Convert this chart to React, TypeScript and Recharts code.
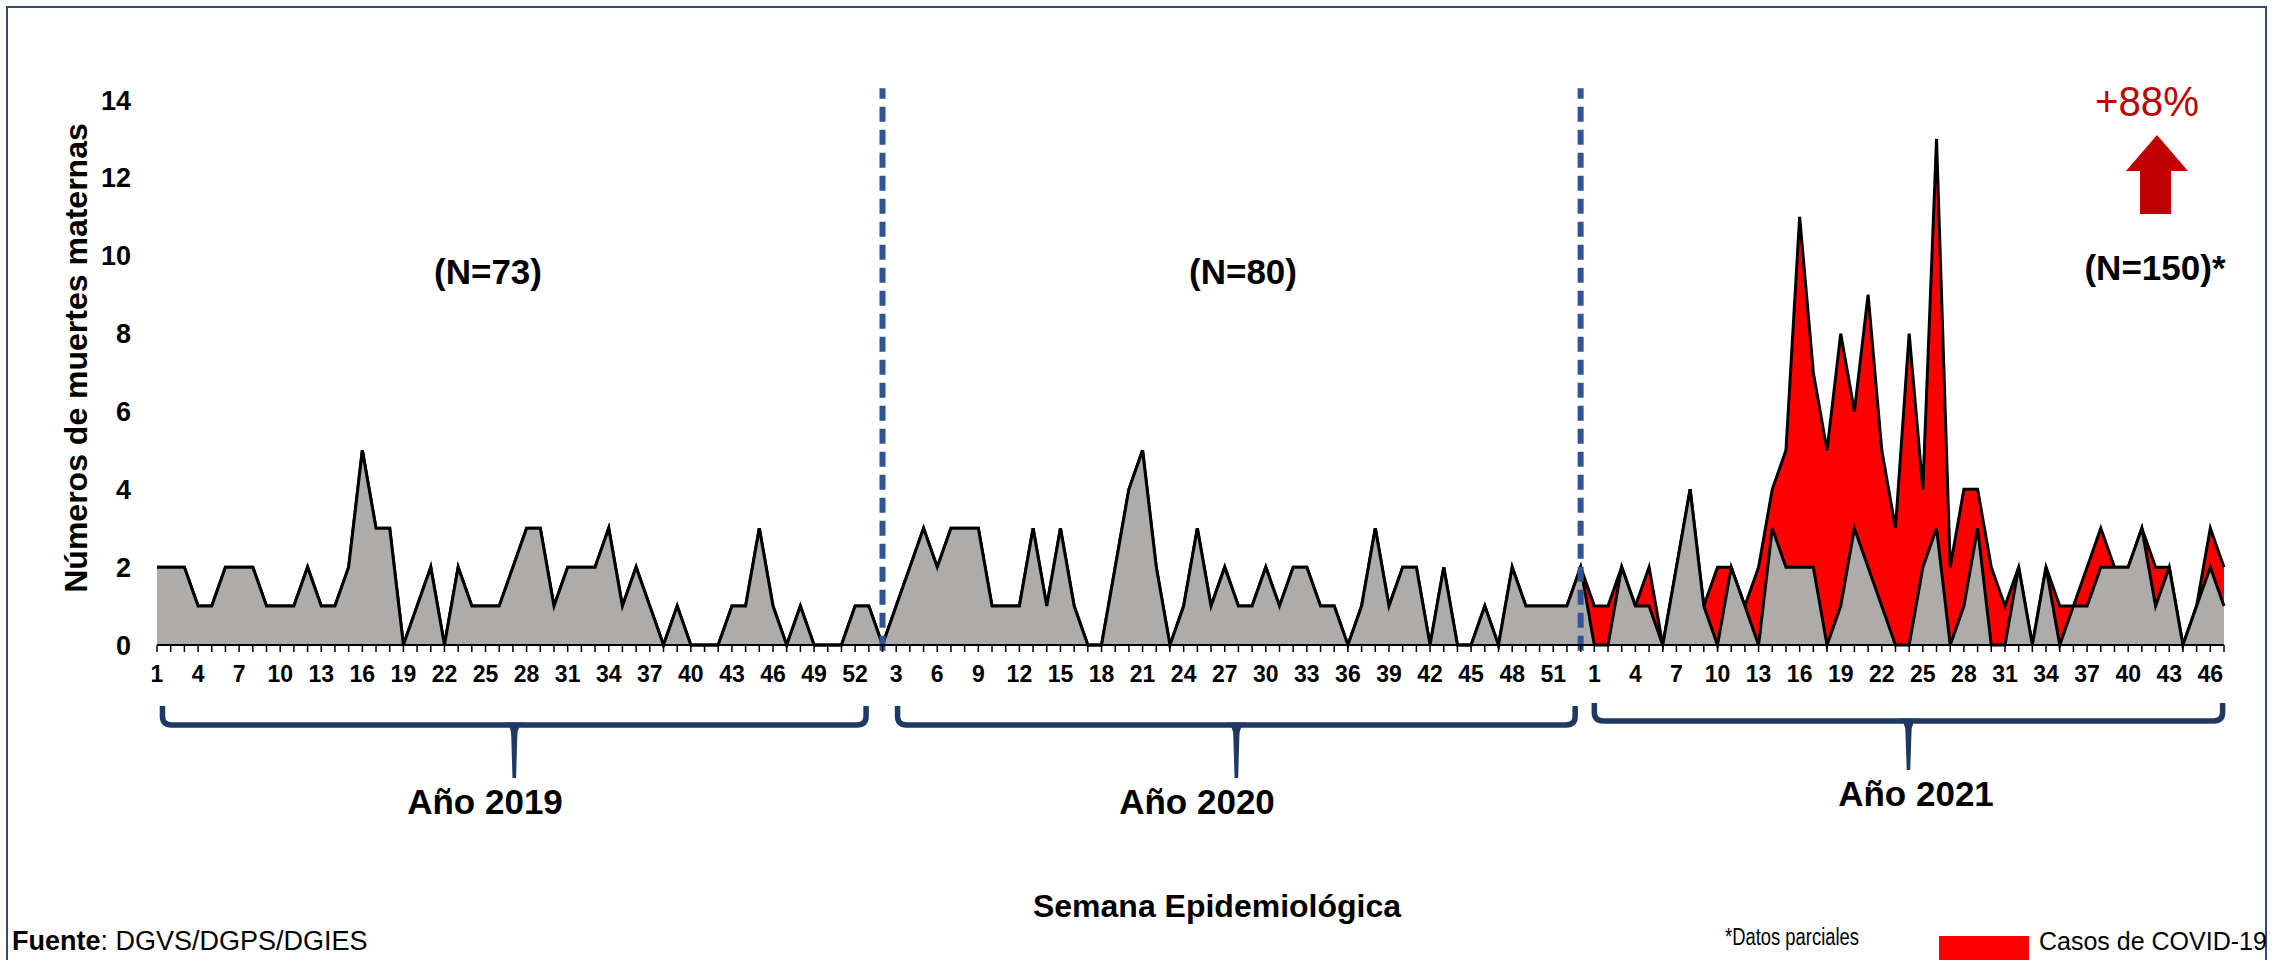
import React from 'react';
import { AreaChart, Area, XAxis, YAxis, ReferenceLine } from 'recharts';

// ---- Data (weekly maternal deaths) ----
const weeks2019 = Array.from({ length: 52 }, (_, i) => i + 1);
const weeks2020 = Array.from({ length: 53 }, (_, i) => i + 1);
const weeks2021 = Array.from({ length: 47 }, (_, i) => i + 1);

const nonCovid2019 = [2, 2, 2, 1, 1, 2, 2, 2, 1, 1, 1, 2, 1, 1, 2, 5, 3, 3, 0, 1, 2, 0, 2, 1, 1, 1, 2, 3, 3, 1, 2, 2, 2, 3, 1, 2, 1, 0, 1, 0, 0, 0, 1, 1, 3, 1, 0, 1, 0, 0, 0, 1];
const nonCovid2020 = [1, 0, 1, 2, 3, 2, 3, 3, 3, 1, 1, 1, 3, 1, 3, 1, 0, 0, 2, 4, 5, 2, 0, 1, 3, 1, 2, 1, 1, 2, 1, 2, 2, 1, 1, 0, 1, 3, 1, 2, 2, 0, 2, 0, 0, 1, 0, 2, 1, 1, 1, 1, 2];
const nonCovid2021 = [0, 0, 2, 1, 1, 0, 2, 4, 1, 0, 2, 1, 0, 3, 2, 2, 2, 0, 1, 3, 2, 1, 0, 0, 2, 3, 0, 1, 3, 0, 0, 2, 0, 2, 0, 1, 1, 2, 2, 2, 3, 1, 2, 0, 1, 2, 1];
const covid2021 = [1, 1, 0, 0, 1, 0, 0, 0, 0, 2, 0, 0, 2, 1, 3, 9, 5, 5, 7, 3, 7, 4, 3, 8, 2, 10, 2, 3, 1, 2, 1, 0, 0, 0, 1, 0, 1, 1, 0, 0, 0, 1, 0, 0, 0, 1, 1];

const yTicks = [0, 2, 4, 6, 8, 10, 12, 14];
const yearLabels = ['Año 2019', 'Año 2020', 'Año 2021'];
const nLabels = ['(N=73)', '(N=80)', '(N=150)*'];
const yearBoundaries = ['2020-2', '2020-53'];

type Row = { key: string; week: number; noCovid: number; total: number };
const data: Row[] = [
  ...weeks2019.map((w, i) => ({ key: `2019-${w}`, week: w, noCovid: nonCovid2019[i], total: nonCovid2019[i] })),
  ...weeks2020.map((w, i) => ({ key: `2020-${w}`, week: w, noCovid: nonCovid2020[i], total: nonCovid2020[i] })),
  ...weeks2021.map((w, i) => ({ key: `2021-${w}`, week: w, noCovid: nonCovid2021[i], total: nonCovid2021[i] + covid2021[i] })),
];

// ---- Layout ----
const W = 2272;
const H = 960;
const PLOT_L = 157;
const PLOT_R = 2224;
const PLOT_T = 100;
const PLOT_B = 645;
const Y_AXIS_W = 60;
const X_AXIS_H = 30;
const FONT = '"Liberation Sans", Arial, sans-serif';
const N = data.length;
const step = (PLOT_R - PLOT_L) / (N - 1);
const xAt = (i: number) => PLOT_L + i * step;

const WeekTick = (props: any) => {
  const { x, y, payload, index } = props;
  const i = payload?.index ?? index;
  if (i % 3 !== 0) return null;
  const row = data[i];
  return (
    <text x={x} y={y} dy={28} textAnchor="middle" fontFamily={FONT} fontWeight="bold" fontSize={23} fill="#000">
      {row ? row.week : ''}
    </text>
  );
};

const Brace = ({ x1, x2, yT, yH, yTip }: { x1: number; x2: number; yT: number; yH: number; yTip: number }) => {
  const cx = (x1 + x2) / 2;
  const r = 9;
  return (
    <g>
      <path
        d={`M ${x1} ${yT} L ${x1} ${yH - r} Q ${x1} ${yH} ${x1 + r} ${yH} L ${x2 - r} ${yH} Q ${x2} ${yH} ${x2} ${yH - r} L ${x2} ${yT}`}
        fill="none"
        stroke="#203864"
        strokeWidth={5.5}
      />
      <path
        d={`M ${cx - 10} ${yH - 2.5} Q ${cx - 3} ${yH} ${cx - 3} ${yH + 12} L ${cx - 1.8} ${yTip} L ${cx + 1.8} ${yTip} L ${cx + 3} ${yH + 12} Q ${cx + 3} ${yH} ${cx + 10} ${yH - 2.5} Z`}
        fill="#203864"
      />
    </g>
  );
};

export default function App() {
  return (
    <div style={{ position: 'absolute', left: 0, top: 0, width: W, height: H, background: '#fff', overflow: 'hidden' }}>
      <AreaChart
        width={W}
        height={H}
        data={data}
        margin={{ top: PLOT_T, right: W - PLOT_R, bottom: H - PLOT_B - X_AXIS_H, left: PLOT_L - Y_AXIS_W }}
      >
        <XAxis
          dataKey="key"
          interval={0}
          height={X_AXIS_H}
          tick={<WeekTick />}
          tickLine={{ stroke: '#000', strokeWidth: 1.5 }}
          tickSize={7}
          axisLine={{ stroke: '#000', strokeWidth: 2 }}
        />
        <YAxis
          width={Y_AXIS_W}
          domain={[0, 14]}
          ticks={yTicks}
          axisLine={false}
          tickLine={false}
          tickSize={0}
          tickMargin={26}
          tick={{ fontSize: 27, fontWeight: 'bold', fill: '#000', fontFamily: FONT }}
        />
        <Area
          type="linear"
          dataKey="total"
          name="Casos de COVID-19"
          fill="#FF0000"
          fillOpacity={1}
          stroke="#000"
          strokeWidth={3}
          strokeLinejoin="miter"
          dot={false}
          activeDot={false}
          isAnimationActive={false}
        />
        <Area
          type="linear"
          dataKey="noCovid"
          name="Otras causas"
          fill="#AEABAB"
          fillOpacity={1}
          stroke="#000"
          strokeWidth={3}
          strokeLinejoin="miter"
          dot={false}
          activeDot={false}
          isAnimationActive={false}
        />
        {yearBoundaries.map((k) => (
          <ReferenceLine
            key={k}
            segment={[{ x: k, y: -0.15 }, { x: k, y: 14.3 }]}
            stroke="#2F5597"
            strokeWidth={6}
            strokeDasharray="15 8"
            ifOverflow="visible"
          />
        ))}
      </AreaChart>

      <svg width={W} height={H} style={{ position: 'absolute', left: 0, top: 0, pointerEvents: 'none' }}>
        <rect x={7} y={7} width={2259} height={1000} fill="none" stroke="#2F4A7A" strokeWidth={2} />

        <text
          transform="translate(76 358) rotate(-90)"
          textAnchor="middle"
          dominantBaseline="central"
          fontFamily={FONT}
          fontWeight="bold"
          fontSize={32}
          fill="#000"
        >
          Números de muertes maternas
        </text>

        {/* N annotations */}
        <text x={488} y={271} textAnchor="middle" dominantBaseline="central" fontFamily={FONT} fontWeight="bold" fontSize={35}>{nLabels[0]}</text>
        <text x={1243} y={271} textAnchor="middle" dominantBaseline="central" fontFamily={FONT} fontWeight="bold" fontSize={35}>{nLabels[1]}</text>
        <text x={2155} y={267} textAnchor="middle" dominantBaseline="central" fontFamily={FONT} fontWeight="bold" fontSize={35}>{nLabels[2]}</text>

        {/* +88% and arrow */}
        <text x={2147} y={101} textAnchor="middle" dominantBaseline="central" fontFamily={FONT} fontSize={42} fill="#C00000" textLength={104} lengthAdjust="spacingAndGlyphs">+88%</text>
        <polygon points="2157,135 2188,171 2171,171 2171,214 2140,214 2140,171 2126,171" fill="#C00000" />

        {/* braces */}
        <Brace x1={xAt(0.4)} x2={xAt(51.8)} yT={706} yH={725} yTip={778} />
        <Brace x1={xAt(54.1)} x2={xAt(103.6)} yT={706} yH={725} yTip={778} />
        <Brace x1={xAt(105)} x2={xAt(150.9)} yT={703} yH={721} yTip={770} />

        <text x={485} y={801} textAnchor="middle" dominantBaseline="central" fontFamily={FONT} fontWeight="bold" fontSize={35}>{yearLabels[0]}</text>
        <text x={1197} y={801} textAnchor="middle" dominantBaseline="central" fontFamily={FONT} fontWeight="bold" fontSize={35}>{yearLabels[1]}</text>
        <text x={1916} y={793} textAnchor="middle" dominantBaseline="central" fontFamily={FONT} fontWeight="bold" fontSize={35}>{yearLabels[2]}</text>

        <text x={1217} y={906} textAnchor="middle" dominantBaseline="central" fontFamily={FONT} fontWeight="bold" fontSize={32}>Semana Epidemiológica</text>

        <text x={12} y={941} dominantBaseline="central" fontFamily={FONT} fontSize={27} fill="#000">
          <tspan fontWeight="bold">Fuente</tspan>: DGVS/DGPS/DGIES
        </text>
        <text x={1725} y={937} dominantBaseline="central" fontFamily={FONT} fontSize={23} fill="#000" textLength={134} lengthAdjust="spacingAndGlyphs">*Datos parciales</text>
        <rect x={1939} y={936} width={90} height={26} fill="#FF0000" />
        <text x={2039} y={941} dominantBaseline="central" fontFamily={FONT} fontSize={25} fill="#000">Casos de COVID-19</text>
      </svg>
    </div>
  );
}
